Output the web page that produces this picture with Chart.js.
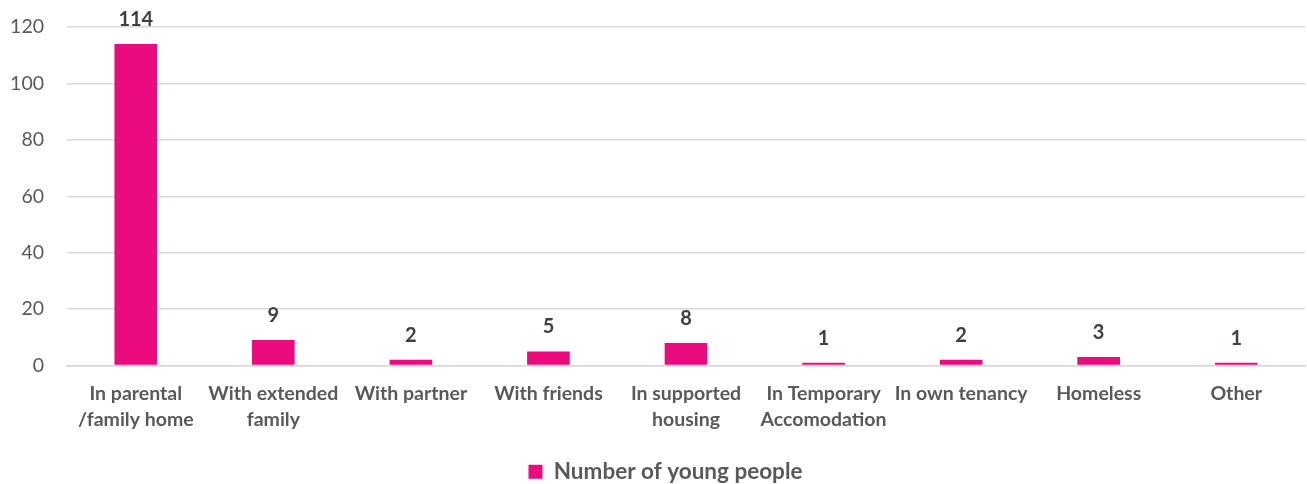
<!DOCTYPE html>
<html>
<head>
<meta charset="utf-8">
<script src="https://cdn.jsdelivr.net/npm/chart.js@4.4.0/dist/chart.umd.min.js"></script>
<style>
html,body{margin:0;padding:0;background:#fff;}
#wrap{width:1307px;height:484px;position:relative;}
</style>
</head>
<body>
<div id="wrap"><canvas id="c" width="1307" height="484"></canvas></div>
<script>
const categories = [
  ["In parental", "/family home"],
  ["With extended", "family"],
  "With partner",
  "With friends",
  ["In supported", "housing"],
  ["In Temporary", "Accomodation"],
  "In own tenancy",
  "Homeless",
  "Other"
];
const seriesName = "Number of young people";
const values = [114, 9, 2, 5, 8, 1, 2, 3, 1];
const yTicks = [0, 20, 40, 60, 80, 100, 120];

const barColor = "#EC0A7F";
const FONT = "Lato, 'Open Sans', sans-serif";

const dataLabels = {
  id: 'dataLabels',
  afterDatasetsDraw(chart) {
    const ctx = chart.ctx;
    const meta = chart.getDatasetMeta(0);
    ctx.save();
    ctx.font = "bold 20px " + FONT;
    ctx.fillStyle = "#404040";
    ctx.textAlign = "center";
    ctx.textBaseline = "alphabetic";
    meta.data.forEach((el, i) => {
      ctx.fillText(String(values[i]), el.x, el.y - 18);
    });
    ctx.restore();
  }
};

const legendShift = {
  id: 'legendShift',
  afterLayout(chart) {
    if (chart.legend) {
      chart.legend.left += 13;
      chart.legend.right += 13;
    }
  }
};

new Chart(document.getElementById('c'), {
  type: 'bar',
  data: {
    labels: categories,
    datasets: [{
      label: seriesName,
      data: values,
      backgroundColor: barColor,
      borderWidth: 0,
      barPercentage: 1,
      categoryPercentage: 0.31
    }]
  },
  options: {
    responsive: false,
    animation: false,
    layout: { padding: { top: 27, right: 2, left: 0, bottom: -9 } },
    plugins: {
      legend: {
        position: 'bottom',
        labels: {
          font: { family: FONT, size: 22.5, weight: 'bold', lineHeight: 1 },
          color: '#595959',
          boxWidth: 14,
          boxHeight: 14,
          padding: 1
        }
      },
      tooltip: { enabled: false }
    },
    scales: {
      x: {
        grid: { display: false },
        border: { display: true, color: '#D9D9D9', width: 1.5 },
        ticks: {
          font: { family: FONT, size: 19.5, weight: 'bold', lineHeight: 1.3 },
          color: '#595959',
          padding: 8,
          maxRotation: 0,
          autoSkip: false
        },
        afterFit(scale) { scale.height = 94; }
      },
      y: {
        min: 0,
        max: 120,
        afterBuildTicks(scale) { scale.ticks = yTicks.map(v => ({ value: v })); },
        grid: { color: '#D9D9D9', lineWidth: 1.5, drawTicks: false },
        border: { display: false },
        ticks: {
          font: { family: FONT, size: 19.5 },
          color: '#595959',
          padding: 23
        },
        afterFit(scale) { scale.width = 67; scale.paddingTop = 0; scale.paddingBottom = 0; }
      }
    }
  },
  plugins: [dataLabels, legendShift]
});
</script>
</body>
</html>
